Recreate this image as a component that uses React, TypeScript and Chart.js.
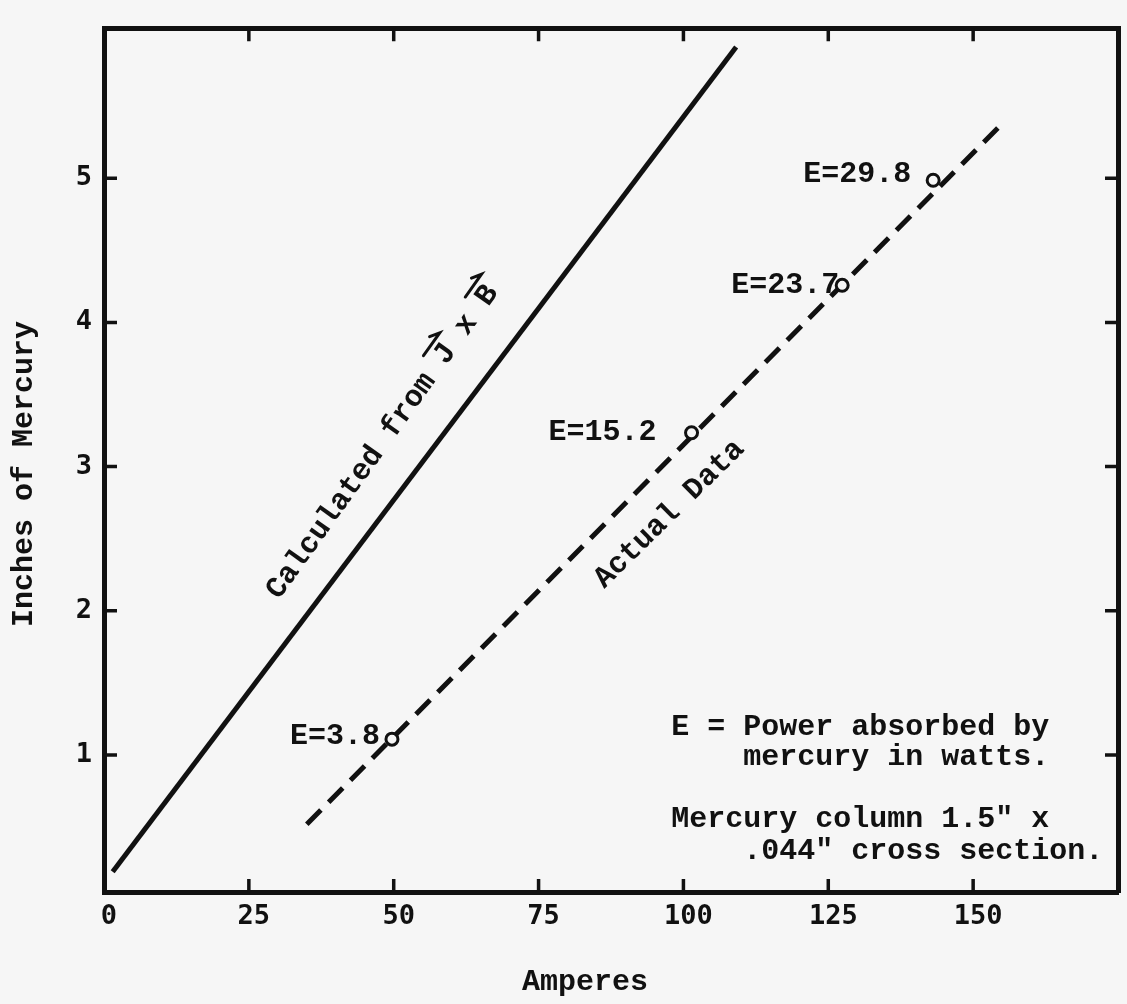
import React, { useEffect, useRef } from 'react';
import { Chart, registerables } from 'chart.js';

Chart.register(...registerables);

// ---- data ----
const X_TICKS = [0, 25, 50, 75, 100, 125, 150];
const Y_TICKS = [1, 2, 3, 4, 5];
const X_MIN = 0;
const X_MAX = 175;
const Y_MIN = 0.05;
const Y_MAX = 6.04;

// calculated (J x B) line
const CALC_AMPERES = [1.5, 109.1];
const CALC_INCHES = [0.19, 5.91];
// fitted line through actual data
const FIT_AMPERES = [35.0, 154.8];
const FIT_INCHES = [0.52, 5.37];
// measured points
const DATA_AMPERES = [49.7, 101.4, 127.4, 143.1];
const DATA_INCHES = [1.11, 3.235, 4.257, 4.986];
const DATA_POWER = ['3.8', '15.2', '23.7', '29.8'];

// ---- text ----
const X_TITLE = 'Amperes';
const Y_TITLE = 'Inches of Mercury';
const CALC_LABEL = 'Calculated from J x B';
const CALC_VECTOR_CHARS = [16, 20]; // J and B carry vector arrows
const FIT_LABEL = 'Actual Data';
const NOTE_LINES = [
  'E = Power absorbed by',
  '    mercury in watts.',
  'Mercury column 1.5" x',
  '    .044" cross section.',
];

// ---- styling / placement (not data) ----
const INK = '#111111';
const BG = '#f6f6f6';
const SERIF_MONO = '"Liberation Mono", "Courier New", monospace';
const SANS_MONO = '"DejaVu Sans Mono", monospace';
const TEXT_SIZE = 30;
const POINT_LABEL_SHIFT = [
  [-12, 5],
  [-35, 7],
  [-3, 8],
  [-22, 2],
];
const CALC_LABEL_AT = { x: 48.1, y: 3.17, angle: -54.5 };
const FIT_LABEL_AT = { x: 97.6, y: 2.67, angle: -44.5 };
const NOTE_AT = { x: 97.9, y: 1.136 };
const NOTE_BASELINE_STEPS = [0, 30, 92, 124];

const backgroundPlugin = {
  id: 'paperBackground',
  beforeDraw(chart: any) {
    const ctx = chart.ctx;
    ctx.save();
    ctx.fillStyle = BG;
    ctx.fillRect(0, 0, chart.width, chart.height);
    ctx.restore();
  },
};

const innerTicksPlugin = {
  id: 'innerTicks',
  afterDatasetsDraw(chart: any) {
    const { ctx, chartArea: a, scales } = chart;
    const x = scales.x;
    const y = scales.y;
    const L = 13;
    ctx.save();
    ctx.strokeStyle = INK;
    ctx.lineWidth = 3.5;
    ctx.beginPath();
    X_TICKS.forEach((v) => {
      if (v <= X_MIN) return;
      const px = x.getPixelForValue(v);
      ctx.moveTo(px, a.bottom);
      ctx.lineTo(px, a.bottom - L);
      ctx.moveTo(px, a.top);
      ctx.lineTo(px, a.top + L);
    });
    Y_TICKS.forEach((v) => {
      const py = y.getPixelForValue(v);
      ctx.moveTo(a.left, py);
      ctx.lineTo(a.left + L, py);
      ctx.moveTo(a.right, py);
      ctx.lineTo(a.right - L, py);
    });
    ctx.stroke();
    ctx.restore();
  },
};

const textPlugin = {
  id: 'figureText',
  afterDraw(chart: any) {
    const { ctx, chartArea: a, scales } = chart;
    const x = scales.x;
    const y = scales.y;
    ctx.save();
    ctx.fillStyle = INK;
    ctx.strokeStyle = INK;
    ctx.font = `bold ${TEXT_SIZE}px ${SERIF_MONO}`;

    // point labels
    ctx.textAlign = 'right';
    ctx.textBaseline = 'alphabetic';
    DATA_AMPERES.forEach((amp, i) => {
      const px = x.getPixelForValue(amp);
      const py = y.getPixelForValue(DATA_INCHES[i]);
      const [dx, dy] = POINT_LABEL_SHIFT[i];
      ctx.fillText(`E=${DATA_POWER[i]}`, px + dx, py + dy);
    });

    // calculated line label with vector arrows
    const cw = ctx.measureText('M').width;
    ctx.save();
    ctx.translate(x.getPixelForValue(CALC_LABEL_AT.x), y.getPixelForValue(CALC_LABEL_AT.y));
    ctx.rotate((CALC_LABEL_AT.angle * Math.PI) / 180);
    ctx.textAlign = 'center';
    ctx.textBaseline = 'middle';
    ctx.fillText(CALC_LABEL, 0, 0);
    ctx.lineWidth = 3;
    ctx.lineCap = 'round';
    const half = (CALC_LABEL.length - 1) / 2;
    CALC_VECTOR_CHARS.forEach((idx) => {
      const cx = (idx - half) * cw;
      const yy = -17;
      ctx.beginPath();
      ctx.moveTo(cx - 14, yy);
      ctx.lineTo(cx + 14, yy);
      ctx.lineTo(cx + 5, yy - 6);
      ctx.stroke();
    });
    ctx.restore();

    // fitted line label
    ctx.save();
    ctx.translate(x.getPixelForValue(FIT_LABEL_AT.x), y.getPixelForValue(FIT_LABEL_AT.y));
    ctx.rotate((FIT_LABEL_AT.angle * Math.PI) / 180);
    ctx.textAlign = 'center';
    ctx.textBaseline = 'middle';
    ctx.fillText(FIT_LABEL, 0, 0);
    ctx.restore();

    // note block
    ctx.textAlign = 'left';
    ctx.textBaseline = 'alphabetic';
    const nx = x.getPixelForValue(NOTE_AT.x);
    const ny = y.getPixelForValue(NOTE_AT.y);
    NOTE_LINES.forEach((line, i) => {
      ctx.fillText(line, nx, ny + NOTE_BASELINE_STEPS[i]);
    });

    // axis titles
    ctx.textAlign = 'center';
    ctx.textBaseline = 'alphabetic';
    ctx.fillText(X_TITLE, (a.left + a.right) / 2 - 26, chart.height - 14);
    ctx.save();
    ctx.translate(24, (a.top + a.bottom) / 2 + 14);
    ctx.rotate(-Math.PI / 2);
    ctx.textBaseline = 'middle';
    ctx.fillText(Y_TITLE, 0, 0);
    ctx.restore();

    ctx.restore();
  },
};

const tickFont = { family: SANS_MONO, size: 27, weight: 'bold', lineHeight: 1.2 };
const border = { display: true, color: INK, width: 5 };

export default function App() {
  const canvasRef = useRef<HTMLCanvasElement | null>(null);

  useEffect(() => {
    const canvas = canvasRef.current;
    if (!canvas) return;
    const chart = new Chart(canvas, {
      type: 'scatter',
      data: {
        datasets: [
          {
            label: 'Actual data',
            data: DATA_AMPERES.map((amp, i) => ({ x: amp, y: DATA_INCHES[i] })),
            showLine: false,
            pointRadius: 6,
            pointBorderWidth: 3,
            pointBackgroundColor: BG,
            pointBorderColor: INK,
            order: 0,
          },
          {
            label: 'Calculated from J x B',
            data: CALC_AMPERES.map((amp, i) => ({ x: amp, y: CALC_INCHES[i] })),
            showLine: true,
            borderColor: INK,
            borderWidth: 5,
            pointRadius: 0,
            order: 1,
          },
          {
            label: 'Actual Data fit',
            data: FIT_AMPERES.map((amp, i) => ({ x: amp, y: FIT_INCHES[i] })),
            showLine: true,
            borderColor: INK,
            borderWidth: 5,
            borderDash: [20, 11],
            pointRadius: 0,
            order: 1,
          },
        ],
      },
      options: {
        animation: false,
        responsive: false,
        devicePixelRatio: 1,
        layout: { padding: { left: 0, top: 14, right: 7, bottom: 0 } },
        plugins: { legend: { display: false }, tooltip: { enabled: false } },
        scales: {
          x: {
            type: 'linear',
            position: 'bottom',
            min: X_MIN,
            max: X_MAX,
            afterBuildTicks: (s: any) => {
              s.ticks = X_TICKS.map((v) => ({ value: v }));
            },
            afterFit: (s: any) => {
              s.height = 112;
            },
            grid: { display: false, drawTicks: false },
            border,
            ticks: {
              autoSkip: false,
              maxRotation: 0,
              padding: 9,
              labelOffset: 5,
              color: INK,
              font: tickFont,
            },
          },
          y: {
            type: 'linear',
            position: 'left',
            min: Y_MIN,
            max: Y_MAX,
            afterBuildTicks: (s: any) => {
              s.ticks = Y_TICKS.map((v) => ({ value: v }));
            },
            afterFit: (s: any) => {
              s.width = 104;
            },
            grid: { display: false, drawTicks: false },
            border,
            ticks: {
              autoSkip: false,
              padding: 12,
              color: INK,
              font: tickFont,
            },
          },
          x2: {
            type: 'linear',
            position: 'top',
            min: X_MIN,
            max: X_MAX,
            afterFit: (s: any) => {
              s.height = 0;
            },
            grid: { display: false, drawTicks: false },
            border,
            ticks: { display: false },
          },
          y2: {
            type: 'linear',
            position: 'right',
            min: Y_MIN,
            max: Y_MAX,
            afterFit: (s: any) => {
              s.width = 0;
            },
            grid: { display: false, drawTicks: false },
            border,
            ticks: { display: false },
          },
        },
      },
      plugins: [backgroundPlugin, innerTicksPlugin, textPlugin],
    } as any);
    return () => chart.destroy();
  }, []);

  return (
    <div style={{ position: 'absolute', left: 0, top: 0, width: 1127, height: 1004, background: BG }}>
      <canvas ref={canvasRef} width={1127} height={1004} style={{ display: 'block' }} />
    </div>
  );
}
